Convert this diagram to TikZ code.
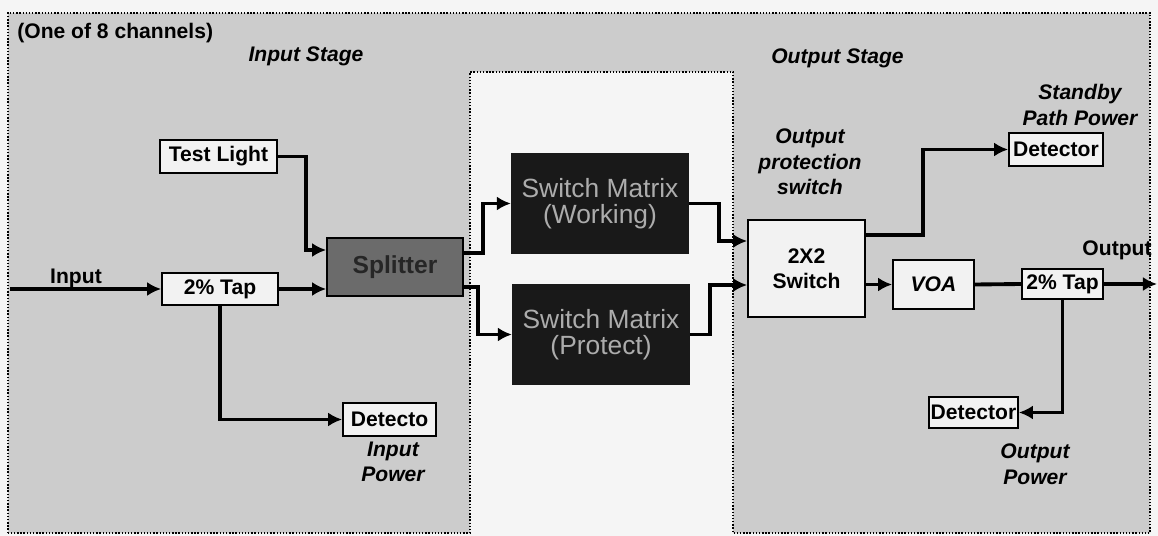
\documentclass[tikz,border=0pt]{standalone}
\usepackage{fontspec}
\setmainfont{Liberation Sans}
\usepackage{xcolor}
\usepackage{tikz}
\usetikzlibrary{arrows.meta, positioning}

\definecolor{stagebg}{gray}{0.80}
\definecolor{midbg}{gray}{0.95}
\definecolor{splitfill}{gray}{0.42}
\definecolor{matrixfill}{gray}{0.10}

\begin{document}
\begin{tikzpicture}[>={Latex[length=8pt,width=8pt]},
    box/.style={draw, line width=1pt, fill=white!95!black, inner sep=0pt,
        font=\fontsize{12}{14}\selectfont\bfseries},
    splitbox/.style={box, fill=splitfill, text=black!85,
        font=\fontsize{14}{16}\selectfont\bfseries},
    matrixbox/.style={draw=matrixfill, fill=matrixfill, text=gray!65, inner sep=0pt,
        minimum width=3.55cm, minimum height=2cm, align=center,
        font=\fontsize{15}{15}\selectfont},
    lbl/.style={font=\fontsize{12}{14.5}\selectfont\bfseries\itshape, align=center, inner sep=0pt},
    link/.style={line width=2.2pt}]
    \useasboundingbox (0,0) rectangle (23.16,-10.72);
    \fill[white!96!black] (0,0) rectangle (23.16,-10.72);

    % 1. Khung cac tang
    \fill[stagebg] (0.16,-10.66) -- (0.16,-0.26) -- (23.0,-0.26) -- (23.0,-10.66)
        -- (14.66,-10.66) -- (14.66,-1.44) -- (9.4,-1.44) -- (9.4,-10.66) -- cycle;
    \draw[densely dotted, line width=0.8pt] (0.16,-10.66) -- (0.16,-0.26) -- (23.0,-0.26) -- (23.0,-10.66)
        -- (14.66,-10.66) -- (14.66,-1.44) -- (9.4,-1.44) -- (9.4,-10.66) -- cycle;

    % 2. Cac khoi
    \node[box, minimum width=2.34cm, minimum height=0.66cm] (testlight) at (4.37,-3.13) {Test Light};
    \node[box, minimum width=2.32cm, minimum height=0.64cm] (tapin) at (4.40,-5.78) {2\% Tap};
    \node[splitbox, minimum width=2.72cm, minimum height=1.16cm] (splitter) at (7.90,-5.34) {Splitter};
    \node[box, minimum width=1.86cm, minimum height=0.66cm] (detin) at (7.79,-8.39) {Detecto};
    \node[matrixbox] (working) at (12.0,-4.07) {Switch Matrix\\(Working)};
    \node[matrixbox] (protect) at (12.02,-6.69) {Switch Matrix\\(Protect)};
    \node[box, minimum width=2.34cm, minimum height=1.94cm, align=center] (switch) at (16.13,-5.37) {2X2\\Switch};
    \node[box, minimum width=1.88cm, minimum height=0.66cm] (detstby) at (21.12,-2.99) {Detector};
    \node[box, minimum width=1.62cm, minimum height=0.98cm, font=\fontsize{12}{14}\selectfont\bfseries\itshape] (voa) at (18.67,-5.69) {VOA};
    \node[box, minimum width=1.62cm, minimum height=0.60cm] (tapout) at (21.25,-5.68) {2\% Tap};
    \node[box, minimum width=1.78cm, minimum height=0.62cm] (detout) at (19.47,-8.25) {Detector};
    \coordinate (in) at (0.2,-5.78);
    \coordinate (out) at (23.14,-5.68);

    % 3. Cac duong noi
    \draw[link, ->] (in) -- (tapin.west);
    \draw[link, ->] (testlight.east) -- ++(0.56,0) |- ([yshift=0.34cm]splitter.west);
    \draw[link, ->] (tapin.east) -- (tapin.east -| splitter.west);
    \draw[link, ->] (tapin.south) |- (detin.west);
    \draw[link, ->] ([yshift=0.28cm]splitter.east) -- ++(0.38,0) |- (working.west);
    \draw[link, ->] ([yshift=-0.4cm]splitter.east) -- ++(0.28,0) |- (protect.west);
    \draw[link, ->] (working.east) -- ++(0.6,0) |- ([yshift=0.55cm]switch.west);
    \draw[link, ->] (protect.east) -- ++(0.4,0) |- ([yshift=-0.33cm]switch.west);
    \draw[link, ->] ([yshift=0.67cm]switch.east) -- ++(1.14,0) |- (detstby.west);
    \draw[link, ->] (switch.east |- voa.west) -- (voa.west);
    \draw[link] (voa.east) -- (tapout.west);
    \draw[link, ->] (tapout.east) -- (out);
    \draw[link, ->] (tapout.south) |- (detout.east);

    % 4. Nhan
    \node[font=\fontsize{12}{14}\selectfont\bfseries, anchor=west, inner sep=0pt] (title) at (0.34,-0.66) {(One of 8 channels)};
    \node[lbl] (instage) at (6.12,-1.12) {Input Stage};
    \node[lbl] (outstage) at (16.75,-1.16) {Output Stage};
    \node[lbl] (protlbl) at (16.2,-3.24) {Output\\protection\\switch};
    \node[lbl] (stbylbl) at (21.6,-2.1) {Standby\\Path Power};
    \node[font=\fontsize{12}{14}\selectfont\bfseries, inner sep=0pt] (outlbl) at (22.34,-5.0) {Output};
    \node[font=\fontsize{12}{14}\selectfont\bfseries, inner sep=0pt] (inlbl) at (1.52,-5.56) {Input};
    \node[lbl] (inpow) at (7.86,-9.24) {Input\\Power};
    \node[lbl] (outpow) at (20.7,-9.28) {Output\\Power};
\end{tikzpicture}
\end{document}
